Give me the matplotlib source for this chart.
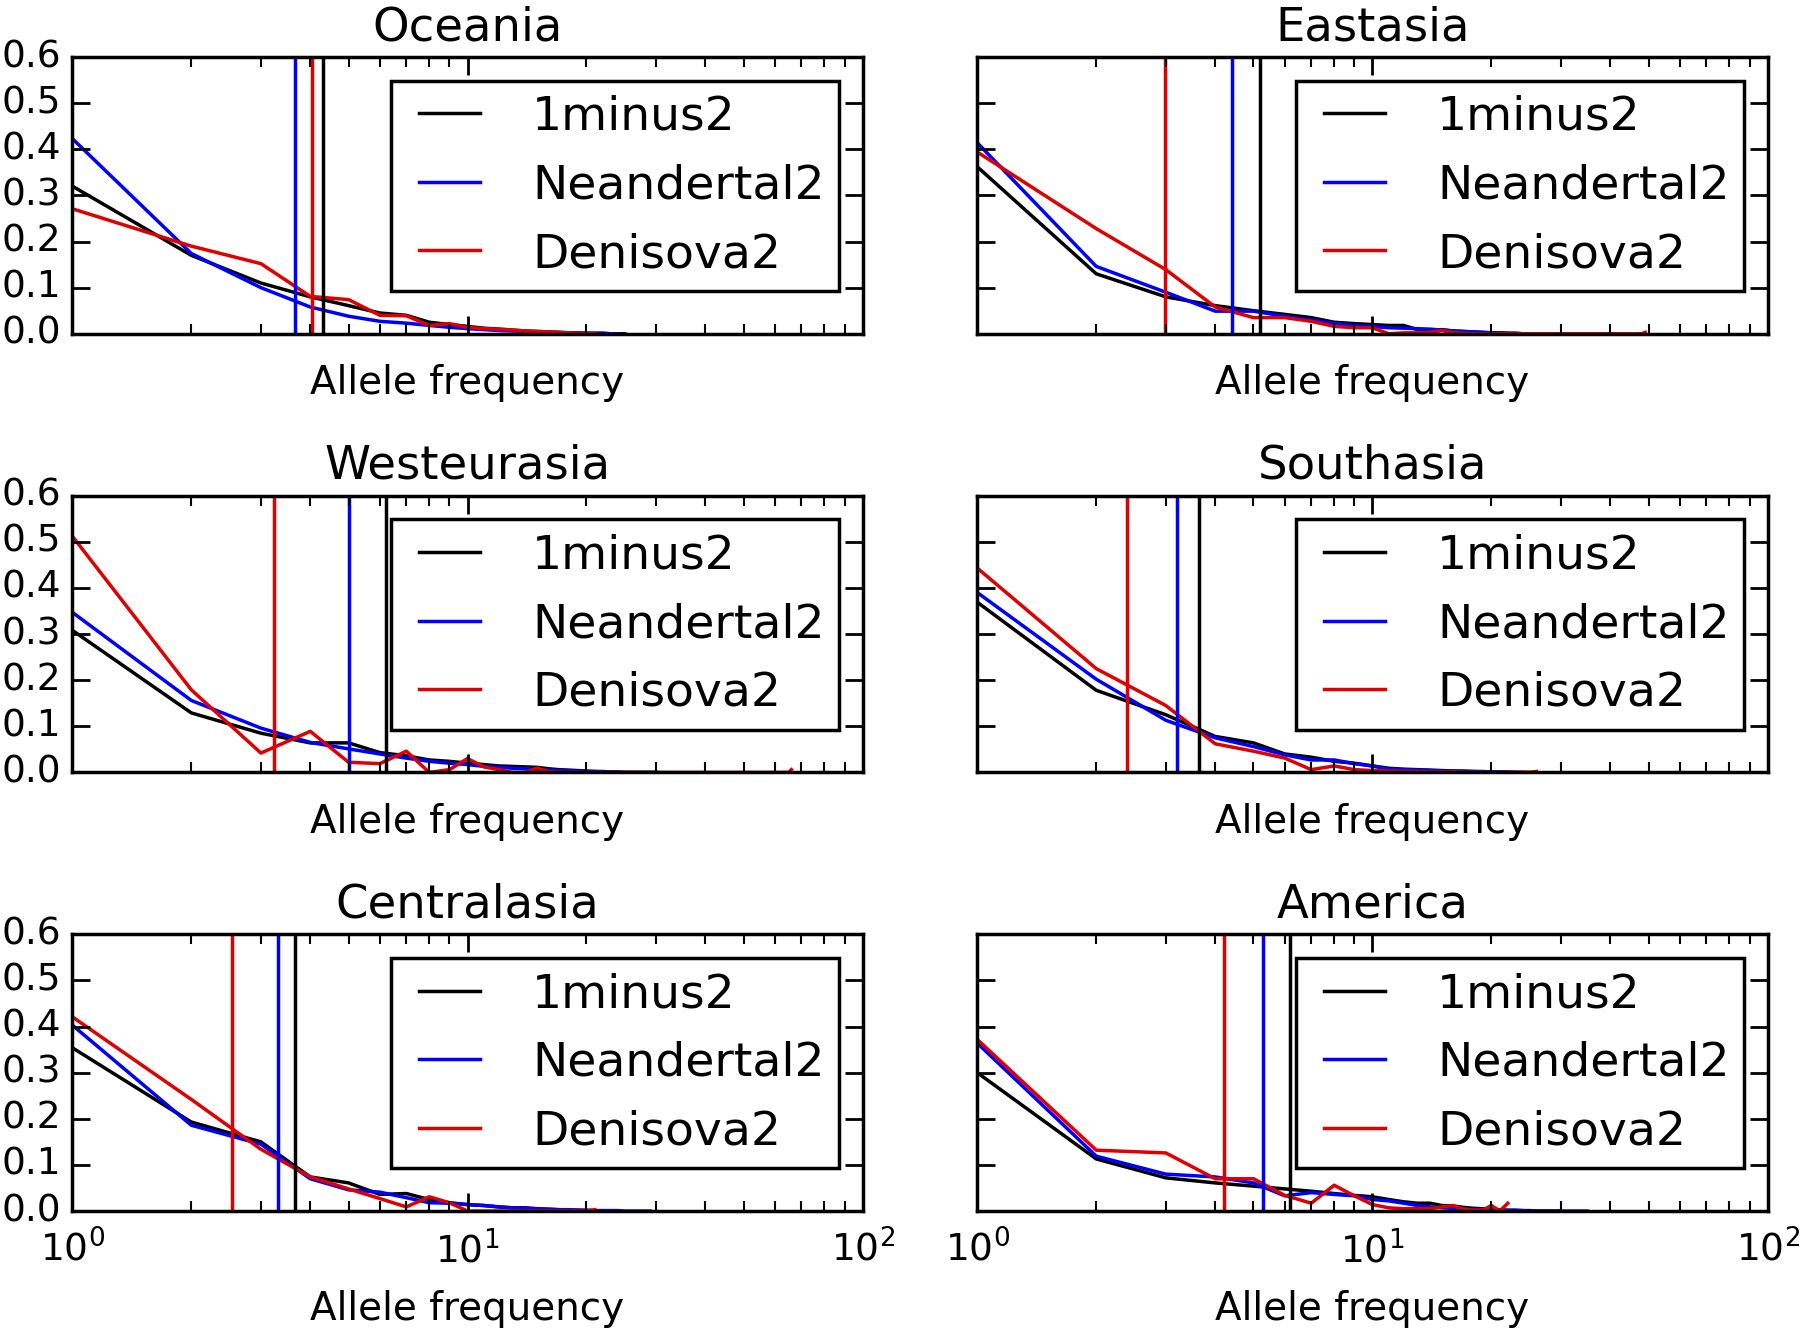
import numpy as np
import matplotlib
matplotlib.use('Agg')
import matplotlib.pyplot as plt

# region names, in panel order
regions = ['Oceania', 'Eastasia', 'Westeurasia', 'Southasia', 'Centralasia', 'America']
series_names = ['1minus2', 'Neandertal2', 'Denisova2']
series_colors = ['k', 'b', '#e00000']

# allele frequency spectra, x = 1, 2, 3, ...
oceania_1minus2 = [0.32, 0.17, 0.11, 0.08, 0.061, 0.045, 0.04, 0.025, 0.02, 0.016, 0.012, 0.01,
                   0.008, 0.006, 0.005, 0.004, 0.003, 0.002, 0.002, 0.001, 0.001, 0.001, 0.0, 0.0, 0.0]
oceania_neandertal2 = [0.423, 0.174, 0.10, 0.058, 0.038, 0.027, 0.023, 0.018, 0.014, 0.011, 0.009, 0.007,
                       0.006, 0.005, 0.004, 0.003, 0.003, 0.002, 0.002, 0.001, 0.001, 0.001, 0.0, 0.0]
oceania_denisova2 = [0.271, 0.19, 0.152, 0.081, 0.074, 0.04, 0.039, 0.018, 0.022, 0.014, 0.011, 0.01,
                     0.008, 0.006, 0.005, 0.004, 0.003, 0.002, 0.001, 0.001, 0.0]

eastasia_1minus2 = [0.362, 0.13, 0.08, 0.061, 0.05, 0.042, 0.035, 0.025, 0.022, 0.02, 0.018, 0.018,
                    0.009, 0.008, 0.009, 0.006, 0.005, 0.004, 0.003, 0.002, 0.002, 0.001, 0.001, 0.0, 0.0]
eastasia_neandertal2 = [0.414, 0.146, 0.09, 0.049, 0.049, 0.038, 0.03, 0.022, 0.018, 0.016, 0.013, 0.012,
                        0.011, 0.01, 0.008, 0.006, 0.005, 0.004, 0.003, 0.002, 0.002, 0.001, 0.001, 0.0, 0.0]
eastasia_denisova2 = [0.394, 0.228, 0.139, 0.058, 0.035, 0.035, 0.027, 0.016, 0.013, 0.013, 0.0, 0.002,
                      0.002, 0.003, 0.007, 0.002, 0.001, 0.0, 0.0, 0.0, 0.0, 0.0, 0.0, 0.0, 0.0,
                      0.0, 0.0, 0.0, 0.0, 0.0, 0.0, 0.0, 0.0, 0.0, 0.0, 0.0, 0.0, 0.0, 0.0, 0.0,
                      0.0, 0.0, 0.0, 0.0, 0.0, 0.0, 0.0, 0.0, 0.003]

westeurasia_1minus2 = [0.308, 0.129, 0.085, 0.064, 0.064, 0.043, 0.036, 0.027, 0.024, 0.02, 0.017, 0.014,
                       0.013, 0.012, 0.011, 0.008, 0.006, 0.005, 0.004, 0.003, 0.002, 0.002, 0.001, 0.001,
                       0.0, 0.0, 0.0, 0.0, 0.0, 0.0]
westeurasia_neandertal2 = [0.347, 0.156, 0.096, 0.065, 0.051, 0.04, 0.031, 0.024, 0.02, 0.017, 0.013, 0.011,
                           0.009, 0.008, 0.007, 0.005, 0.004, 0.003, 0.003, 0.002, 0.002, 0.001, 0.001, 0.0,
                           0.0, 0.0, 0.0, 0.0, 0.0, 0.0]
westeurasia_denisova2 = [0.512, 0.179, 0.042, 0.089, 0.022, 0.019, 0.046, 0.0, 0.006, 0.03, 0.012, 0.006,
                         0.0, 0.0, 0.009, 0.002, 0.0, 0.0, 0.0, 0.0, 0.0, 0.0, 0.0, 0.0, 0.0,
                         0.0, 0.0, 0.0, 0.0, 0.0, 0.0, 0.0, 0.0, 0.0, 0.0, 0.0, 0.0, 0.0, 0.0, 0.0,
                         0.0, 0.0, 0.0, 0.0, 0.0, 0.0, 0.0, 0.0, 0.0, 0.0, 0.0, 0.0, 0.0, 0.0, 0.0,
                         0.0, 0.0, 0.0, 0.0, 0.0, 0.0, 0.0, 0.0, 0.0, 0.0, 0.006]

southasia_1minus2 = [0.369, 0.178, 0.125, 0.078, 0.064, 0.04, 0.033, 0.024, 0.02, 0.014, 0.009, 0.007,
                     0.006, 0.005, 0.004, 0.003, 0.003, 0.002, 0.002, 0.001, 0.001, 0.001, 0.0, 0.0, 0.0]
southasia_neandertal2 = [0.39, 0.202, 0.113, 0.075, 0.056, 0.038, 0.027, 0.027, 0.019, 0.014, 0.007, 0.006,
                         0.005, 0.004, 0.003, 0.003, 0.002, 0.002, 0.001, 0.001, 0.001, 0.0, 0.0, 0.0]
southasia_denisova2 = [0.443, 0.225, 0.145, 0.062, 0.046, 0.031, 0.006, 0.014, 0.006, 0.004, 0.003, 0.002,
                       0.002, 0.001, 0.001, 0.001, 0.0, 0.0, 0.0, 0.0, 0.0, 0.0, 0.0, 0.0, 0.0, 0.002]

centralasia_1minus2 = [0.354, 0.193, 0.15, 0.074, 0.061, 0.036, 0.038, 0.025, 0.018, 0.014, 0.012, 0.009,
                       0.007, 0.007, 0.005, 0.004, 0.003, 0.002, 0.002, 0.001, 0.001, 0.0, 0.0, 0.0]
centralasia_neandertal2 = [0.403, 0.186, 0.145, 0.07, 0.046, 0.041, 0.029, 0.018, 0.017, 0.014, 0.012, 0.009,
                           0.007, 0.006, 0.005, 0.004, 0.003, 0.003, 0.002, 0.002, 0.001, 0.001, 0.001, 0.001,
                           0.0, 0.0, 0.0, 0.0, 0.0]
centralasia_denisova2 = [0.421, 0.242, 0.134, 0.074, 0.048, 0.027, 0.009, 0.031, 0.018, 0.0, 0.0, 0.0,
                         0.0, 0.0, 0.0, 0.0, 0.0, 0.0, 0.0, 0.0, 0.003]

america_1minus2 = [0.30, 0.113, 0.072, 0.061, 0.054, 0.048, 0.043, 0.038, 0.034, 0.031, 0.025, 0.02,
                   0.017, 0.017, 0.012, 0.011, 0.008, 0.006, 0.005, 0.004, 0.003, 0.002, 0.002, 0.001,
                   0.001, 0.0, 0.0, 0.0, 0.0, 0.0]
america_neandertal2 = [0.364, 0.119, 0.08, 0.074, 0.061, 0.033, 0.04, 0.036, 0.033, 0.025, 0.022, 0.017,
                       0.012, 0.009, 0.007, 0.006, 0.005, 0.004, 0.003, 0.002, 0.002, 0.001, 0.001, 0.001,
                       0.0, 0.0, 0.0, 0.0, 0.0, 0.0, 0.0, 0.0, 0.0, 0.0, 0.0]
america_denisova2 = [0.372, 0.132, 0.126, 0.07, 0.07, 0.034, 0.017, 0.056, 0.033, 0.014, 0.007, 0.005,
                     0.005, 0.005, 0.009, 0.012, 0.004, 0.002, 0.002, 0.012, 0.0, 0.017]

# mean allele frequency per series (vertical lines)
oceania_means = [4.32, 3.66, 4.03]
eastasia_means = [5.19, 4.40, 2.98]
westeurasia_means = [6.23, 5.0, 3.24]
southasia_means = [3.65, 3.2, 2.39]
centralasia_means = [3.65, 3.32, 2.53]
america_means = [6.2, 5.3, 4.2]

spectra = [
    [oceania_1minus2, oceania_neandertal2, oceania_denisova2],
    [eastasia_1minus2, eastasia_neandertal2, eastasia_denisova2],
    [westeurasia_1minus2, westeurasia_neandertal2, westeurasia_denisova2],
    [southasia_1minus2, southasia_neandertal2, southasia_denisova2],
    [centralasia_1minus2, centralasia_neandertal2, centralasia_denisova2],
    [america_1minus2, america_neandertal2, america_denisova2],
]
means = [oceania_means, eastasia_means, westeurasia_means,
         southasia_means, centralasia_means, america_means]

plt.style.use('classic')
plt.rcParams['figure.facecolor'] = 'white'
plt.rcParams['font.family'] = ['DejaVu Sans']

fig, axes = plt.subplots(3, 2, figsize=(18, 13.32), dpi=100, sharex=True, sharey=True)
fig.subplots_adjust(left=0.0402, right=0.982, bottom=0.0908, top=0.9572,
                    wspace=0.145, hspace=0.585)

for i, ax in enumerate(axes.flat):
    for ys, name, col in zip(spectra[i], series_names, series_colors):
        x = np.arange(1, len(ys) + 1)
        ax.plot(x, ys, color=col, lw=2.5, label=name)
    for m, col in zip(means[i], series_colors):
        ax.axvline(m, color=col, lw=2.5)
    ax.set_xscale('log')
    ax.set_xlim(1, 100)
    ax.set_ylim(0, 0.6)
    ax.set_yticks(np.arange(0, 0.61, 0.1))
    ax.set_title(regions[i], fontsize=33.5, pad=12)
    ax.set_xlabel('Allele frequency', fontsize=28)
    for s in ax.spines.values():
        s.set_linewidth(2.5)
    ax.tick_params(which='major', length=13, width=2, labelsize=27, direction='in',
                   top=True, right=True)
    ax.tick_params(which='minor', length=7, width=1.5, direction='in', top=True, right=True)
    ax.tick_params(axis='x', pad=14)
    ax.tick_params(axis='y', pad=8)
    leg = ax.legend(loc='upper right', fontsize=34, handlelength=1.9, handletextpad=0.8,
                    labelspacing=0.5, borderpad=0.3, borderaxespad=0.5, frameon=True)
    leg.get_frame().set_linewidth(2.5)
    leg.get_frame().set_edgecolor('k')
    if i < 4:
        ax.tick_params(axis='x', labelbottom=False)
        ax.xaxis.labelpad = 22
    else:
        ax.xaxis.labelpad = 14
    if i % 2 == 1:
        ax.tick_params(axis='y', labelleft=False)

fig.savefig('out.png', dpi=100, facecolor='white')
